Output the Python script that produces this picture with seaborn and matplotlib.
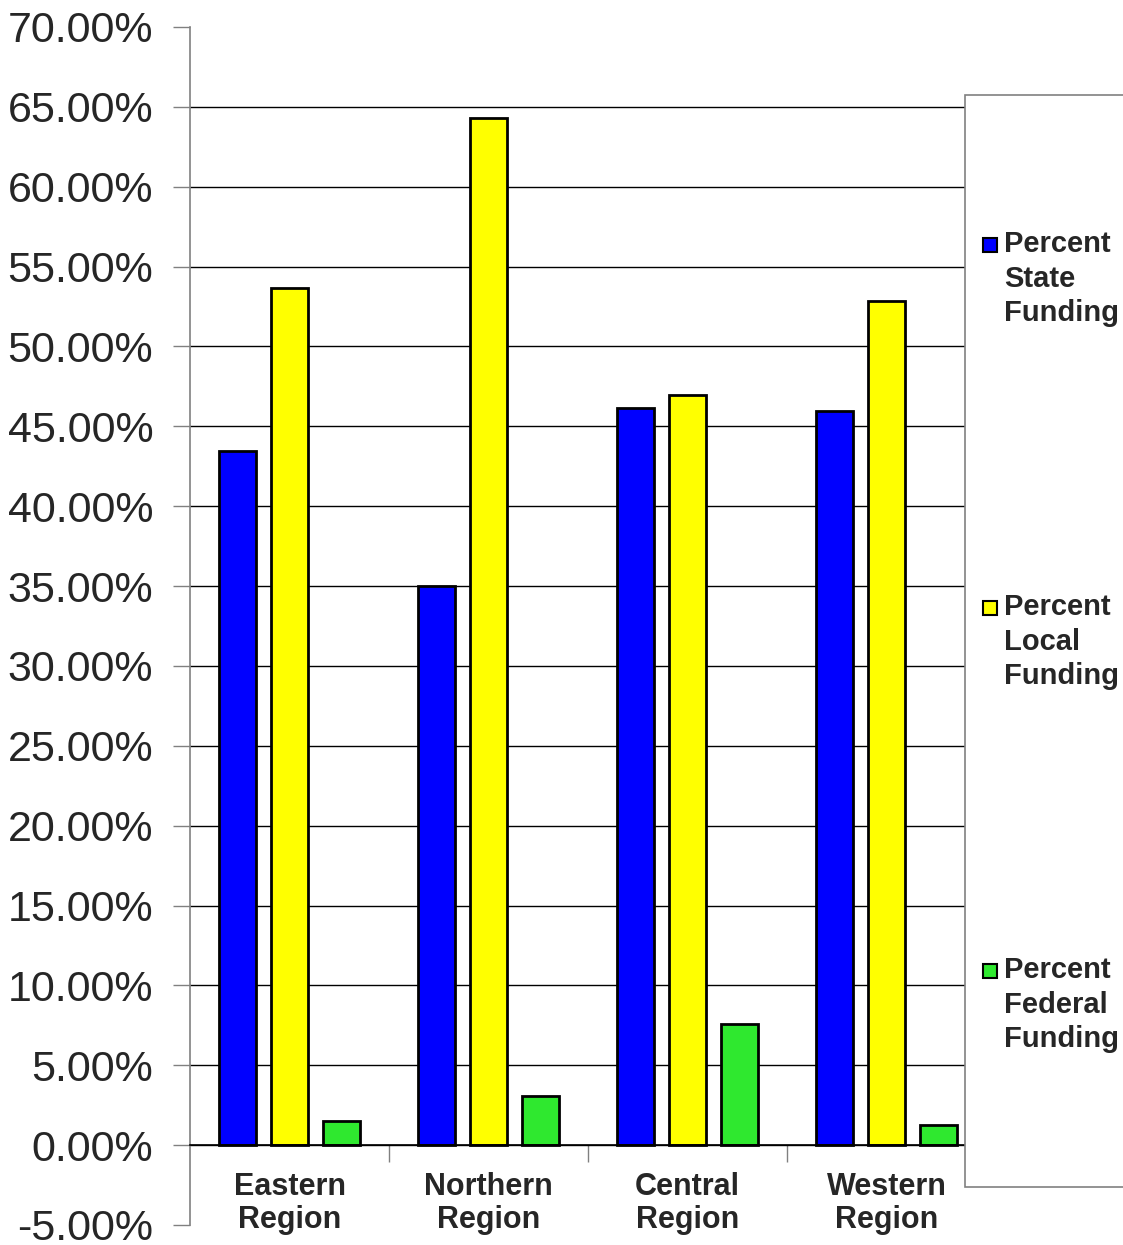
import numpy as np
import pandas as pd
import matplotlib
matplotlib.use("Agg")
import matplotlib.pyplot as plt
import matplotlib.patches as mpatches
from matplotlib.ticker import PercentFormatter, FixedLocator
import seaborn as sns

# data (percent)
regions = ["Eastern\nRegion", "Northern\nRegion", "Central\nRegion", "Western\nRegion"]
series = ["Percent\nState\nFunding", "Percent\nLocal\nFunding", "Percent\nFederal\nFunding"]
state_pct = [43.48, 35.03, 46.17, 45.98]
local_pct = [53.67, 64.31, 46.98, 52.86]
federal_pct = [1.50, 3.07, 7.57, 1.25]

colors = ["#0000ff", "#ffff00", "#2fe82f"]

rows = []
for vals, name in zip([state_pct, local_pct, federal_pct], series):
    for reg, v in zip(regions, vals):
        rows.append({"region": reg, "series": name, "value": v})
df = pd.DataFrame(rows)

sns.set_style("white")
plt.rcParams["font.family"] = ["Liberation Sans", "DejaVu Sans"]
plt.rcParams["axes.unicode_minus"] = False

W, H = 1123, 1245
fig = plt.figure(figsize=(W / 100, H / 100), dpi=100)
ax = fig.add_axes([190 / W, 1 - 1225 / H, (986 - 190) / W, (1225 - 27) / H])

sns.barplot(
    data=df, x="region", y="value", hue="series",
    order=regions, hue_order=series,
    palette=dict(zip(series, colors)),
    width=0.78, gap=0.28, edgecolor="black", linewidth=2,
    errorbar=None, legend=False, saturation=1, ax=ax,
)

ax.set_ylim(-5, 70)
ax.set_xlim(-0.5, 3.5)
ax.set_yticks(np.arange(-5, 70.1, 5))
ax.yaxis.set_major_formatter(PercentFormatter(xmax=100, decimals=2))
ax.tick_params(axis="y", labelsize=31, length=12, width=1, color="#808080",
               direction="out", pad=14.5, left=True)
ax.set_xlabel("")
ax.set_ylabel("")

# grid lines (none at the top and bottom limits)
ax.set_axisbelow(True)
ax.yaxis.grid(True, color="black", linewidth=1)
gl = ax.get_ygridlines()
gl[0].set_visible(False)
gl[-1].set_visible(False)

# spines
ax.spines["top"].set_visible(False)
ax.spines["right"].set_visible(False)
ax.spines["left"].set_color("#808080")
ax.spines["left"].set_linewidth(1.2)
ax.spines["bottom"].set_position(("data", 0))
ax.spines["bottom"].set_color("black")
ax.spines["bottom"].set_linewidth(1.2)

# category labels and separator ticks
ax.set_xticks(range(len(regions)))
ax.set_xticklabels(regions, fontsize=22, fontweight="bold", linespacing=1.15)
ax.tick_params(axis="x", which="major", length=0, pad=19, bottom=True)
ax.xaxis.set_minor_locator(FixedLocator([0.5, 1.5, 2.5]))
ax.tick_params(axis="x", which="minor", length=12, width=1, color="#808080",
               direction="out", bottom=True)

# legend box drawn by hand (markers aligned with the first text line)
box = mpatches.Rectangle((965 / W, 1 - 1187 / H), 0.5, (1187 - 95) / H,
                         transform=fig.transFigure, facecolor="white",
                         edgecolor="#808080", linewidth=1.2, zorder=5)
fig.patches.append(box)
entry_tops = [245, 608, 971]
for name, col, yc in zip(series, colors, entry_tops):
    fig.patches.append(mpatches.Rectangle(
        (983 / W, 1 - (yc + 7) / H), 14 / W, 14 / H, transform=fig.transFigure,
        facecolor=col, edgecolor="black", linewidth=1.5, zorder=6))
    fig.text(1004 / W, 1 - (yc - 15) / H, name, fontsize=21, fontweight="bold",
             va="top", ha="left", linespacing=1.3, zorder=7)

fig.savefig("out.png", dpi=100)
